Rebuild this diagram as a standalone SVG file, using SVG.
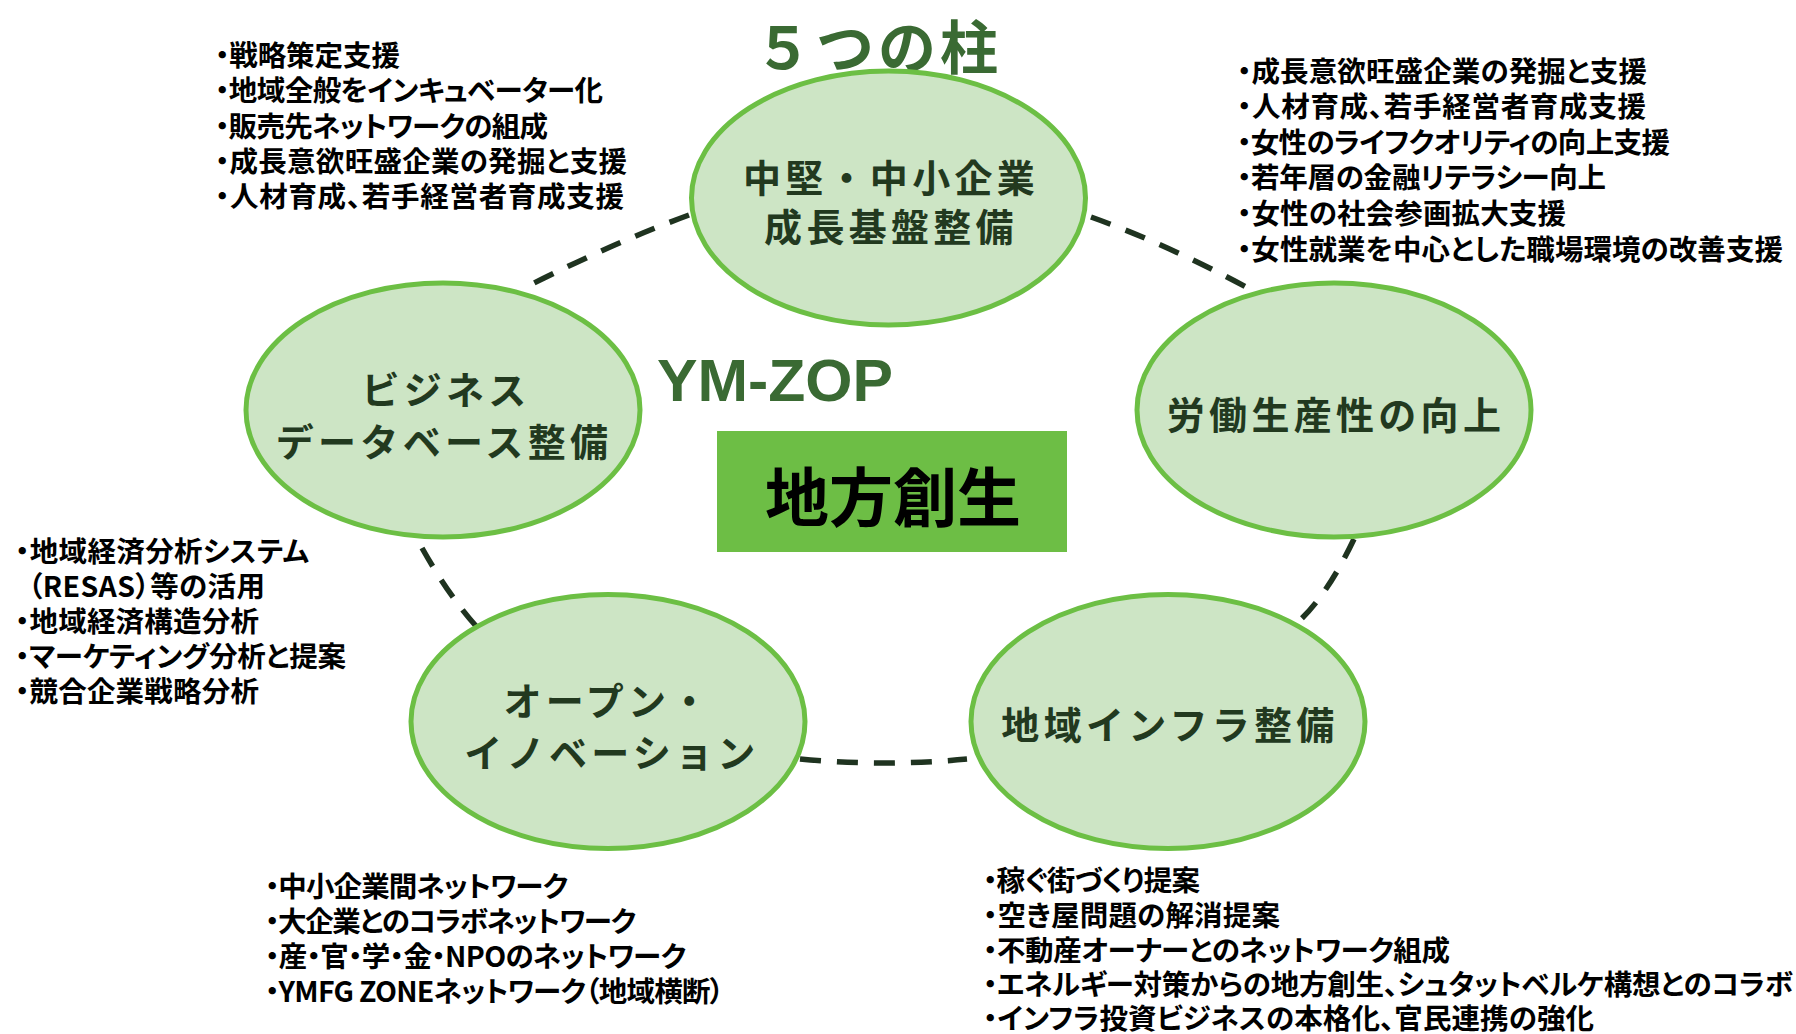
<svg xmlns="http://www.w3.org/2000/svg" width="1796" height="1034" viewBox="0 0 1796 1034">
<style>
.list { font-family: "Noto Sans CJK JP", "Noto Sans CJK SC", sans-serif; font-size: 28.5px; font-weight: 700; fill: #000; font-feature-settings: "palt"; }
.shape { fill: #cde5c5; stroke: #6cbf44; stroke-width: 5; }
.ntext { font-family: "Noto Sans CJK JP", "Noto Sans CJK SC", sans-serif; font-size: 38px; font-weight: 700; fill: #22391f; letter-spacing: 4.3px; text-anchor: middle; }
.conn { fill: none; stroke: #1f3320; stroke-width: 5.5; stroke-dasharray: 21 16; }
.title { font-family: "Noto Sans CJK JP", "Noto Sans CJK SC", sans-serif; font-weight: 700; fill: #3a6a33; }
</style>
<rect width="1796" height="1034" fill="#ffffff"/>

<g id="connectors">
  <path class="conn" d="M 689 215 Q 616 242 534 283"/>
  <path class="conn" d="M 1091 217 Q 1164 243 1246 287"/>
  <path class="conn" d="M 1354 539 Q 1327 596 1297 623"/>
  <path class="conn" d="M 800 759 Q 884 767 967 759"/>
  <path class="conn" d="M 422 548 Q 449 596 476 626"/>
</g>

<g id="title">
  <text class="title" x="878" y="69" font-size="58" letter-spacing="4" text-anchor="middle">５つの柱</text>
</g>

<g id="ymzop">
  <text x="657" y="401" font-family="Liberation Sans, Arial, sans-serif" font-weight="700" font-size="60" fill="#3a6a33" textLength="236" lengthAdjust="spacingAndGlyphs">YM-ZOP</text>
</g>

<g id="center">
  <rect x="717" y="431" width="350" height="121" fill="#6dbe45"/>
  <text x="893" y="521" font-family="Noto Sans CJK JP, Noto Sans CJK SC, sans-serif" font-weight="700" font-size="64" fill="#000" text-anchor="middle">地方創生</text>
</g>

<g id="node-top">
  <ellipse class="shape" cx="888.5" cy="198" rx="197" ry="127"/>
  <text class="ntext" x="891" y="192">中堅・中小企業</text>
  <text class="ntext" x="891" y="241">成長基盤整備</text>
</g>

<g id="node-left">
  <ellipse class="shape" cx="443" cy="410" rx="197" ry="127"/>
  <text class="ntext" x="446" y="403.5">ビジネス</text>
  <text class="ntext" x="444" y="455.5">データベース整備</text>
</g>

<g id="node-right">
  <ellipse class="shape" cx="1334" cy="410" rx="197" ry="127"/>
  <text class="ntext" x="1336" y="429">労働生産性の向上</text>
</g>

<g id="node-bottom-left">
  <ellipse class="shape" cx="608" cy="721.5" rx="197" ry="127"/>
  <text class="ntext" x="608" y="714.5">オープン・</text>
  <text class="ntext" x="612" y="767">イノベーション</text>
</g>

<g id="node-bottom-right">
  <ellipse class="shape" cx="1168" cy="721.5" rx="197" ry="127"/>
  <text class="ntext" x="1170" y="739">地域インフラ整備</text>
</g>

<g id="list-top-left" class="list">
  <text x="215" y="66" textLength="185">・戦略策定支援</text>
  <text x="215" y="101" textLength="388">・地域全般をインキュベーター化</text>
  <text x="215" y="137" textLength="333">・販売先ネットワークの組成</text>
  <text x="215" y="172" textLength="412">・成長意欲旺盛企業の発掘と支援</text>
  <text x="215" y="207" textLength="409">・人材育成、若手経営者育成支援</text>
</g>

<g id="list-top-right" class="list">
  <text x="1237" y="82" textLength="410">・成長意欲旺盛企業の発掘と支援</text>
  <text x="1237" y="117" textLength="409">・人材育成、若手経営者育成支援</text>
  <text x="1237" y="153" textLength="433">・女性のライフクオリティの向上支援</text>
  <text x="1237" y="188" textLength="369">・若年層の金融リテラシー向上</text>
  <text x="1237" y="224" textLength="329">・女性の社会参画拡大支援</text>
  <text x="1237" y="260" textLength="546">・女性就業を中心とした職場環境の改善支援</text>
</g>

<g id="list-left" class="list">
  <text x="15" y="562" textLength="294">・地域経済分析システム</text>
  <text x="28" y="597" textLength="237">（RESAS）等の活用</text>
  <text x="15" y="632" textLength="244">・地域経済構造分析</text>
  <text x="15" y="667" textLength="331">・マーケティング分析と提案</text>
  <text x="15" y="702" textLength="244">・競合企業戦略分析</text>
</g>

<g id="list-bottom-left" class="list">
  <text x="265" y="897" textLength="303">・中小企業間ネットワーク</text>
  <text x="265" y="932" textLength="371">・大企業とのコラボネットワーク</text>
  <text x="265" y="967" textLength="421">・産・官・学・金・NPOのネットワーク</text>
  <text x="265" y="1002" textLength="459">・YMFG ZONEネットワーク（地域横断）</text>
</g>

<g id="list-bottom-right" class="list">
  <text x="983" y="891" textLength="217">・稼ぐ街づくり提案</text>
  <text x="983" y="926" textLength="297">・空き屋問題の解消提案</text>
  <text x="983" y="961" textLength="467">・不動産オーナーとのネットワーク組成</text>
  <text x="983" y="995" textLength="810">・エネルギー対策からの地方創生、シュタットベルケ構想とのコラボ</text>
  <text x="983" y="1029" textLength="611">・インフラ投資ビジネスの本格化、官民連携の強化</text>
</g>
</svg>
